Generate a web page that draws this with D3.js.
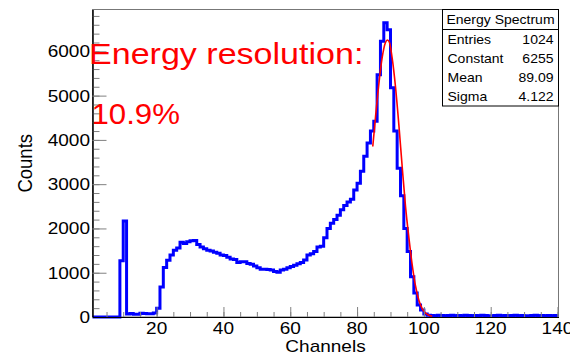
<!DOCTYPE html>
<html>
<head>
<meta charset="utf-8">
<script src="https://cdn.jsdelivr.net/npm/d3@7"></script>
<style>
body { margin: 0; background: #fff; }
svg { display: block; font-family: "Liberation Sans", Arial, sans-serif; }
</style>
</head>
<body>
<div id="chart"></div>
<script>
// histogram, one bin per channel, starting at channel 0
const firstChannel = 0;
const counts = [
    0, 0, 0, 0, 0, 0, 0, 0, 0, 1270,          // 0-9
    2170, 70, 80, 60, 60, 85, 80, 75, 75, 90,  // 10-19
    200, 680, 1120, 1280, 1400, 1510, 1560, 1690, 1660, 1700, // 20-29
    1720, 1730, 1640, 1580, 1540, 1510, 1490, 1460, 1440, 1400, // 30-39
    1390, 1350, 1310, 1300, 1230, 1250, 1250, 1210, 1190, 1150, // 40-49
    1110, 1080, 1080, 1070, 1060, 1030, 1010, 1060, 1080, 1110, // 50-59
    1140, 1170, 1200, 1230, 1290, 1400, 1430, 1480, 1580, 1600, // 60-69
    1790, 2000, 2120, 2200, 2300, 2420, 2520, 2600, 2660, 2870, // 70-79
    3020, 3290, 3630, 3930, 4200, 4420, 5470, 6230, 6645, 6490, // 80-89
    5180, 4200, 3360, 2740, 2000, 1480, 910, 540, 270, 160,     // 90-99
    70, 40, 35, 30, 40, 35, 30, 35, 40, 30,    // 100-109
    35, 30, 40, 35, 30, 35, 30, 40, 35, 30,    // 110-119
    30, 35, 40, 30, 35, 30, 35, 40, 30, 35,    // 120-129
    30, 30, 35, 40, 30, 35, 30, 35, 30, 35,    // 130-139
    30                                         // 140
];

// gaussian fit curve
const fitChannels = [84.7, 85.5, 86.5, 87.5, 88.5, 89.1, 89.7, 90.5, 91.5, 92.5,
    93.5, 94.5, 95.5, 96.5, 97.5, 98.5, 99.5, 100.5, 101.5, 102.5];
const fitCounts = [3850, 4500, 5250, 5850, 6200, 6255, 6200, 5850, 5200, 4350,
    3400, 2500, 1800, 1180, 700, 380, 190, 90, 40, 15];

const xTicks = [20, 40, 60, 80, 100, 120, 140];
const yTicks = [0, 1000, 2000, 3000, 4000, 5000, 6000];

const statsTitle = 'Energy Spectrum';
const statsLabels = ['Entries', 'Constant', 'Mean', 'Sigma'];
const statsValues = ['1024', '6255', '89.09', '4.122'];

const noteLines = ['Energy resolution:', '10.9%'];

const width = 570, height = 355;
const frame = {left: 92.5, right: 558.5, top: 9.5, bottom: 317};
const stretch = 1.12; // glyphs in the reference are a bit wide

const svg = d3.select('#chart').append('svg')
    .attr('width', width)
    .attr('height', height);

svg.append('rect')
    .attr('width', width).attr('height', height)
    .attr('fill', '#fff');

const x = d3.scaleLinear().domain([0.8, 140.3]).range([frame.left, frame.right]);
const y = d3.scaleLinear().domain([0, 6945]).range([frame.bottom, frame.top]);

function label(g, px, py, str, size, anchor, color, sx) {
    return g.append('text')
        .attr('transform', 'translate(' + px + ',' + py + ') scale(' + (sx || stretch) + ',1)')
        .attr('text-anchor', anchor)
        .attr('font-size', size)
        .attr('fill', color || '#000')
        .text(str);
}

// frame
svg.append('rect')
    .attr('x', frame.left).attr('y', frame.top)
    .attr('width', frame.right - frame.left)
    .attr('height', frame.bottom - frame.top)
    .attr('fill', 'none')
    .attr('stroke', '#777')
    .attr('stroke-width', 1);

svg.append('clipPath').attr('id', 'clip')
    .append('rect')
    .attr('x', frame.left).attr('y', frame.top - 2)
    .attr('width', frame.right - frame.left)
    .attr('height', frame.bottom - frame.top + 4);

// histogram outline as steps
const steps = [[x(firstChannel), y(0)]];
counts.forEach((v, i) => {
    const c = firstChannel + i;
    steps.push([x(c), y(v)]);
    steps.push([x(c + 1), y(v)]);
});
steps.push([x(firstChannel + counts.length), y(0)]);

svg.append('path')
    .attr('clip-path', 'url(#clip)')
    .attr('d', d3.line()(steps))
    .attr('fill', 'none')
    .attr('stroke', '#0000ff')
    .attr('stroke-width', 3)
    .attr('stroke-linejoin', 'miter');

svg.append('path')
    .datum(fitChannels.map((c, i) => [c, fitCounts[i]]))
    .attr('d', d3.line()
        .curve(d3.curveMonotoneX)
        .x(d => x(d[0]))
        .y(d => y(d[1])))
    .attr('fill', 'none')
    .attr('stroke', '#ff0000')
    .attr('stroke-width', 1.6);

// axes: ticks inside the frame
function styleAxis(g) {
    g.selectAll('.domain').attr('stroke', '#000');
    g.selectAll('.tick line').attr('stroke', '#808080');
    g.selectAll('.tick text').remove();
}

svg.append('g')
    .attr('transform', 'translate(' + frame.left + ',0)')
    .call(d3.axisLeft(y).ticks(35).tickSize(-7).tickSizeOuter(0))
    .call(styleAxis);
svg.append('g')
    .attr('transform', 'translate(' + frame.left + ',0)')
    .call(d3.axisLeft(y).tickValues(yTicks).tickSize(-14).tickSizeOuter(0))
    .call(styleAxis);

svg.append('g')
    .attr('transform', 'translate(0,' + frame.bottom + ')')
    .call(d3.axisBottom(x).ticks(28).tickSize(-5).tickSizeOuter(0))
    .call(styleAxis);
svg.append('g')
    .attr('transform', 'translate(0,' + frame.bottom + ')')
    .call(d3.axisBottom(x).tickValues(xTicks).tickSize(-10).tickSizeOuter(0))
    .call(styleAxis);

yTicks.forEach(v => label(svg, 90, y(v) + 6, d3.format('d')(v), 17, 'end'));
xTicks.forEach(v => label(svg, x(v), 334, d3.format('d')(v), 17, 'middle'));

label(svg, (frame.left + frame.right) / 2, 351.5, 'Channels', 17, 'middle');
svg.append('text')
    .attr('transform', 'translate(31.5,' + ((frame.top + frame.bottom) / 2) + ') scale(' + stretch + ',1) rotate(-90)')
    .attr('text-anchor', 'middle')
    .attr('font-size', 18.5)
    .text('Counts');

// stats box
const box = {x: 442.5, y: 9.5, w: 116, h: 96.5};
svg.append('rect')
    .attr('x', box.x).attr('y', box.y)
    .attr('width', box.w).attr('height', box.h)
    .attr('fill', '#fff')
    .attr('stroke', '#000');
svg.append('line')
    .attr('x1', box.x).attr('x2', box.x + box.w)
    .attr('y1', box.y + 20).attr('y2', box.y + 20)
    .attr('stroke', '#000');
label(svg, box.x + box.w / 2, box.y + 14.5, statsTitle, 12.5, 'middle');
statsLabels.forEach((s, i) => {
    label(svg, box.x + 5, box.y + 34 + i * 19, s, 12.5, 'start');
    label(svg, box.x + box.w - 5, box.y + 34 + i * 19, statsValues[i], 12.5, 'end');
});

// red annotation
label(svg, 89, 63.5, noteLines[0], 30, 'start', '#ff0000', 1.135);
label(svg, 91.5, 123.5, noteLines[1], 30, 'start', '#ff0000', 1.04);
</script>
</body>
</html>
